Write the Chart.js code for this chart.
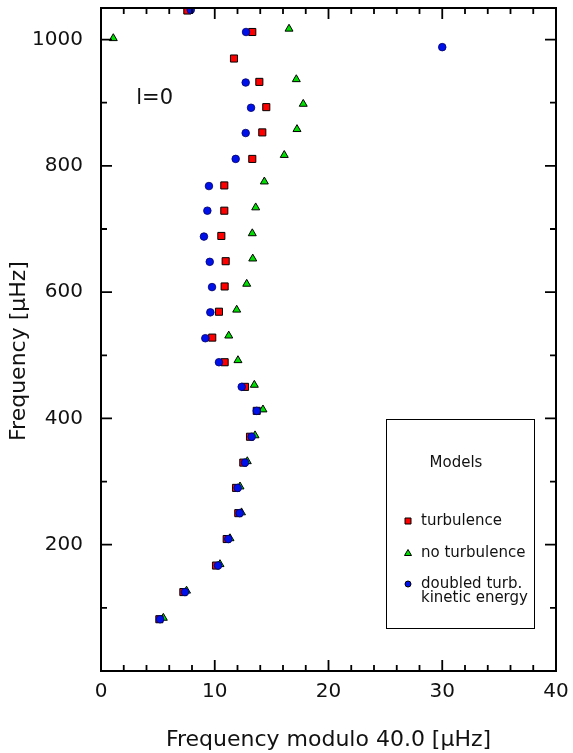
<!DOCTYPE html>
<html>
<head>
<meta charset="utf-8">
<script src="https://cdn.jsdelivr.net/npm/chart.js@4/dist/chart.umd.min.js"></script>
<style>
  html, body { margin: 0; padding: 0; background: #fff; }
  #wrap { width: 573px; height: 753px; }
</style>
</head>
<body>
<div id="wrap"><canvas id="echelle"></canvas></div>
<script>
// ===== DATA =====
const turbX = [5.13, 7.24, 10.11, 11.05, 12.07, 11.87, 12.51, 13.10, 13.69, 12.66, 10.87, 9.78, 10.37,
               10.87, 10.96, 10.58, 10.84, 10.84, 13.30, 14.18, 14.53, 13.92, 11.69, 13.30, 7.59];
const turbY = [82, 125, 167, 209, 250, 290, 330, 371, 412, 450, 489, 528, 569,
               609, 649, 689, 729, 769, 811, 853, 893, 933, 970, 1012, 1046];

const noTurbX = [5.48, 7.52, 10.46, 11.34, 12.35, 12.22, 12.86, 13.54, 14.24, 13.48, 12.04, 11.23,
                 11.93, 12.81, 13.34, 13.30, 13.60, 14.36, 16.11, 17.23, 17.78, 17.17, 1.08, 16.53];
const noTurbY = [84, 127, 169, 210, 251, 292, 332, 373, 414, 453, 492, 531,
                 572, 613, 653, 693, 734, 775, 817, 858, 898, 937, 1002, 1017];

const doubledX = [5.19, 7.38, 10.29, 11.19, 12.19, 12.02, 12.66, 13.25, 13.69, 12.37, 10.37, 9.17, 9.61,
                  9.76, 9.56, 9.05, 9.35, 9.49, 11.84, 12.72, 13.19, 12.72, 30.0, 12.75, 7.89];
const doubledY = [82, 125, 167, 209, 250, 290, 330, 371, 412, 450, 489, 527, 568,
                  608, 648, 688, 729, 768, 811, 852, 892, 932, 988, 1012, 1047];

const seriesNames = ["turbulence", "no turbulence", "doubled turb.\nkinetic energy"];
const xTicks = [0, 10, 20, 30, 40];
const yTicks = [200, 400, 600, 800, 1000];

const toPoints = (xs, ys) => xs.map((x, i) => ({ x: x, y: ys[i] }));

const TEXT = "#111";
const FONT = "'DejaVu Sans', sans-serif";

// ===== FRAME, INWARD TICKS, LABELS, LEGEND =====
const framePlugin = {
    id: "frame",
    afterDraw(chart) {
        const { ctx, chartArea: a, scales } = chart;
        const sx = scales.x, sy = scales.y;
        ctx.save();
        ctx.strokeStyle = "#000";
        ctx.lineWidth = 2;
        ctx.strokeRect(a.left, a.top, a.right - a.left, a.bottom - a.top);

        ctx.lineWidth = 1.8;
        ctx.beginPath();
        for (let v = 0; v <= 40; v += 2) {
            const px = sx.getPixelForValue(v);
            const len = v % 10 === 0 ? 11 : 6;
            ctx.moveTo(px, a.bottom); ctx.lineTo(px, a.bottom - len);
            ctx.moveTo(px, a.top); ctx.lineTo(px, a.top + len);
        }
        for (let v = 100; v <= 1000; v += 100) {
            const py = sy.getPixelForValue(v);
            const len = v % 200 === 0 ? 11 : 6;
            ctx.moveTo(a.left, py); ctx.lineTo(a.left + len, py);
            ctx.moveTo(a.right, py); ctx.lineTo(a.right - len, py);
        }
        ctx.stroke();

        // y axis title (sits a bit below the centre of the axis)
        ctx.fillStyle = TEXT;
        ctx.font = "22px " + FONT;
        ctx.textAlign = "center";
        ctx.textBaseline = "middle";
        ctx.save();
        ctx.translate(19, 351);
        ctx.rotate(-Math.PI / 2);
        ctx.fillText("Frequency [μHz]", 0, 0);
        ctx.restore();

        // degree label
        ctx.font = "21px " + FONT;
        ctx.textAlign = "left";
        ctx.fillText("l=0", sx.getPixelForValue(3.1), sy.getPixelForValue(907));

        // legend box
        const bx = a.right - 170, by = a.bottom - 252, bw = 148, bh = 209;
        ctx.lineWidth = 1;
        ctx.strokeStyle = "#000";
        ctx.strokeRect(bx + 0.5, by + 0.5, bw, bh);
        ctx.font = "15px " + FONT;
        ctx.textAlign = "center";
        ctx.fillText("Models", bx + 70, by + 44);

        ctx.textAlign = "left";
        const rows = [by + 102, by + 134, by + 165];
        chart.data.datasets.forEach((ds, i) => {
            const mx = bx + 22, my = rows[i];
            ctx.fillStyle = ds.backgroundColor;
            ctx.strokeStyle = "#000";
            ctx.lineWidth = 1;
            ctx.beginPath();
            if (ds.pointStyle === "rect") {
                ctx.rect(mx - 3, my - 3, 6, 6);
            } else if (ds.pointStyle === "triangle") {
                ctx.moveTo(mx, my - 3.5); ctx.lineTo(mx + 3.5, my + 2.5); ctx.lineTo(mx - 3.5, my + 2.5);
                ctx.closePath();
            } else {
                ctx.arc(mx, my, 3, 0, Math.PI * 2);
            }
            ctx.fill();
            ctx.stroke();
            ctx.fillStyle = TEXT;
            seriesNames[i].split("\n").forEach((line, k) => {
                ctx.fillText(line, mx + 13, my + k * 14);
            });
        });
        ctx.restore();
    }
};

new Chart(document.getElementById("echelle"), {
    type: "scatter",
    data: {
        datasets: [
            {
                label: seriesNames[0],
                data: toPoints(turbX, turbY),
                order: 1,
                pointStyle: "rect",
                pointRadius: 5,
                backgroundColor: "#ff0000",
                borderColor: "#000",
                borderWidth: 1
            },
            {
                label: seriesNames[1],
                data: toPoints(noTurbX, noTurbY),
                order: 2,
                pointStyle: "triangle",
                pointRadius: 4.6,
                backgroundColor: "#00e000",
                borderColor: "#000",
                borderWidth: 1
            },
            {
                label: seriesNames[2],
                data: toPoints(doubledX, doubledY),
                order: 0,
                pointStyle: "circle",
                pointRadius: 3.8,
                backgroundColor: "#0010e8",
                borderColor: "#00006a",
                borderWidth: 0.8
            }
        ]
    },
    options: {
        responsive: true,
        maintainAspectRatio: false,
        animation: false,
        layout: { padding: { left: 0, right: 17, top: 8, bottom: 0 }, autoPadding: false },
        plugins: {
            legend: { display: false },
            tooltip: { enabled: false }
        },
        scales: {
            x: {
                type: "linear",
                min: 0,
                max: 40,
                afterFit: (s) => {
                    s.height = 82;
                    s.paddingLeft = 0;
                    s.paddingRight = 0;
                },
                afterBuildTicks: (s) => { s.ticks = xTicks.map(v => ({ value: v })); },
                grid: { display: false, drawTicks: false },
                border: { display: false },
                ticks: { color: TEXT, font: { family: FONT, size: 20 }, padding: 9 },
                title: {
                    display: true,
                    text: "Frequency modulo 40.0 [μHz]",
                    color: TEXT,
                    font: { family: FONT, size: 22 },
                    padding: { top: 0, bottom: 0 }
                }
            },
            y: {
                type: "linear",
                min: 0,
                max: 1050,
                afterFit: (s) => {
                    s.width = 101;
                    s.paddingTop = 0;
                    s.paddingBottom = 0;
                },
                afterBuildTicks: (s) => { s.ticks = yTicks.map(v => ({ value: v })); },
                grid: { display: false, drawTicks: false },
                border: { display: false },
                ticks: {
                    color: TEXT,
                    font: { family: FONT, size: 20 },
                    padding: 18,
                    callback: (v) => String(v)
                }
            }
        }
    },
    plugins: [framePlugin]
});
</script>
</body>
</html>
